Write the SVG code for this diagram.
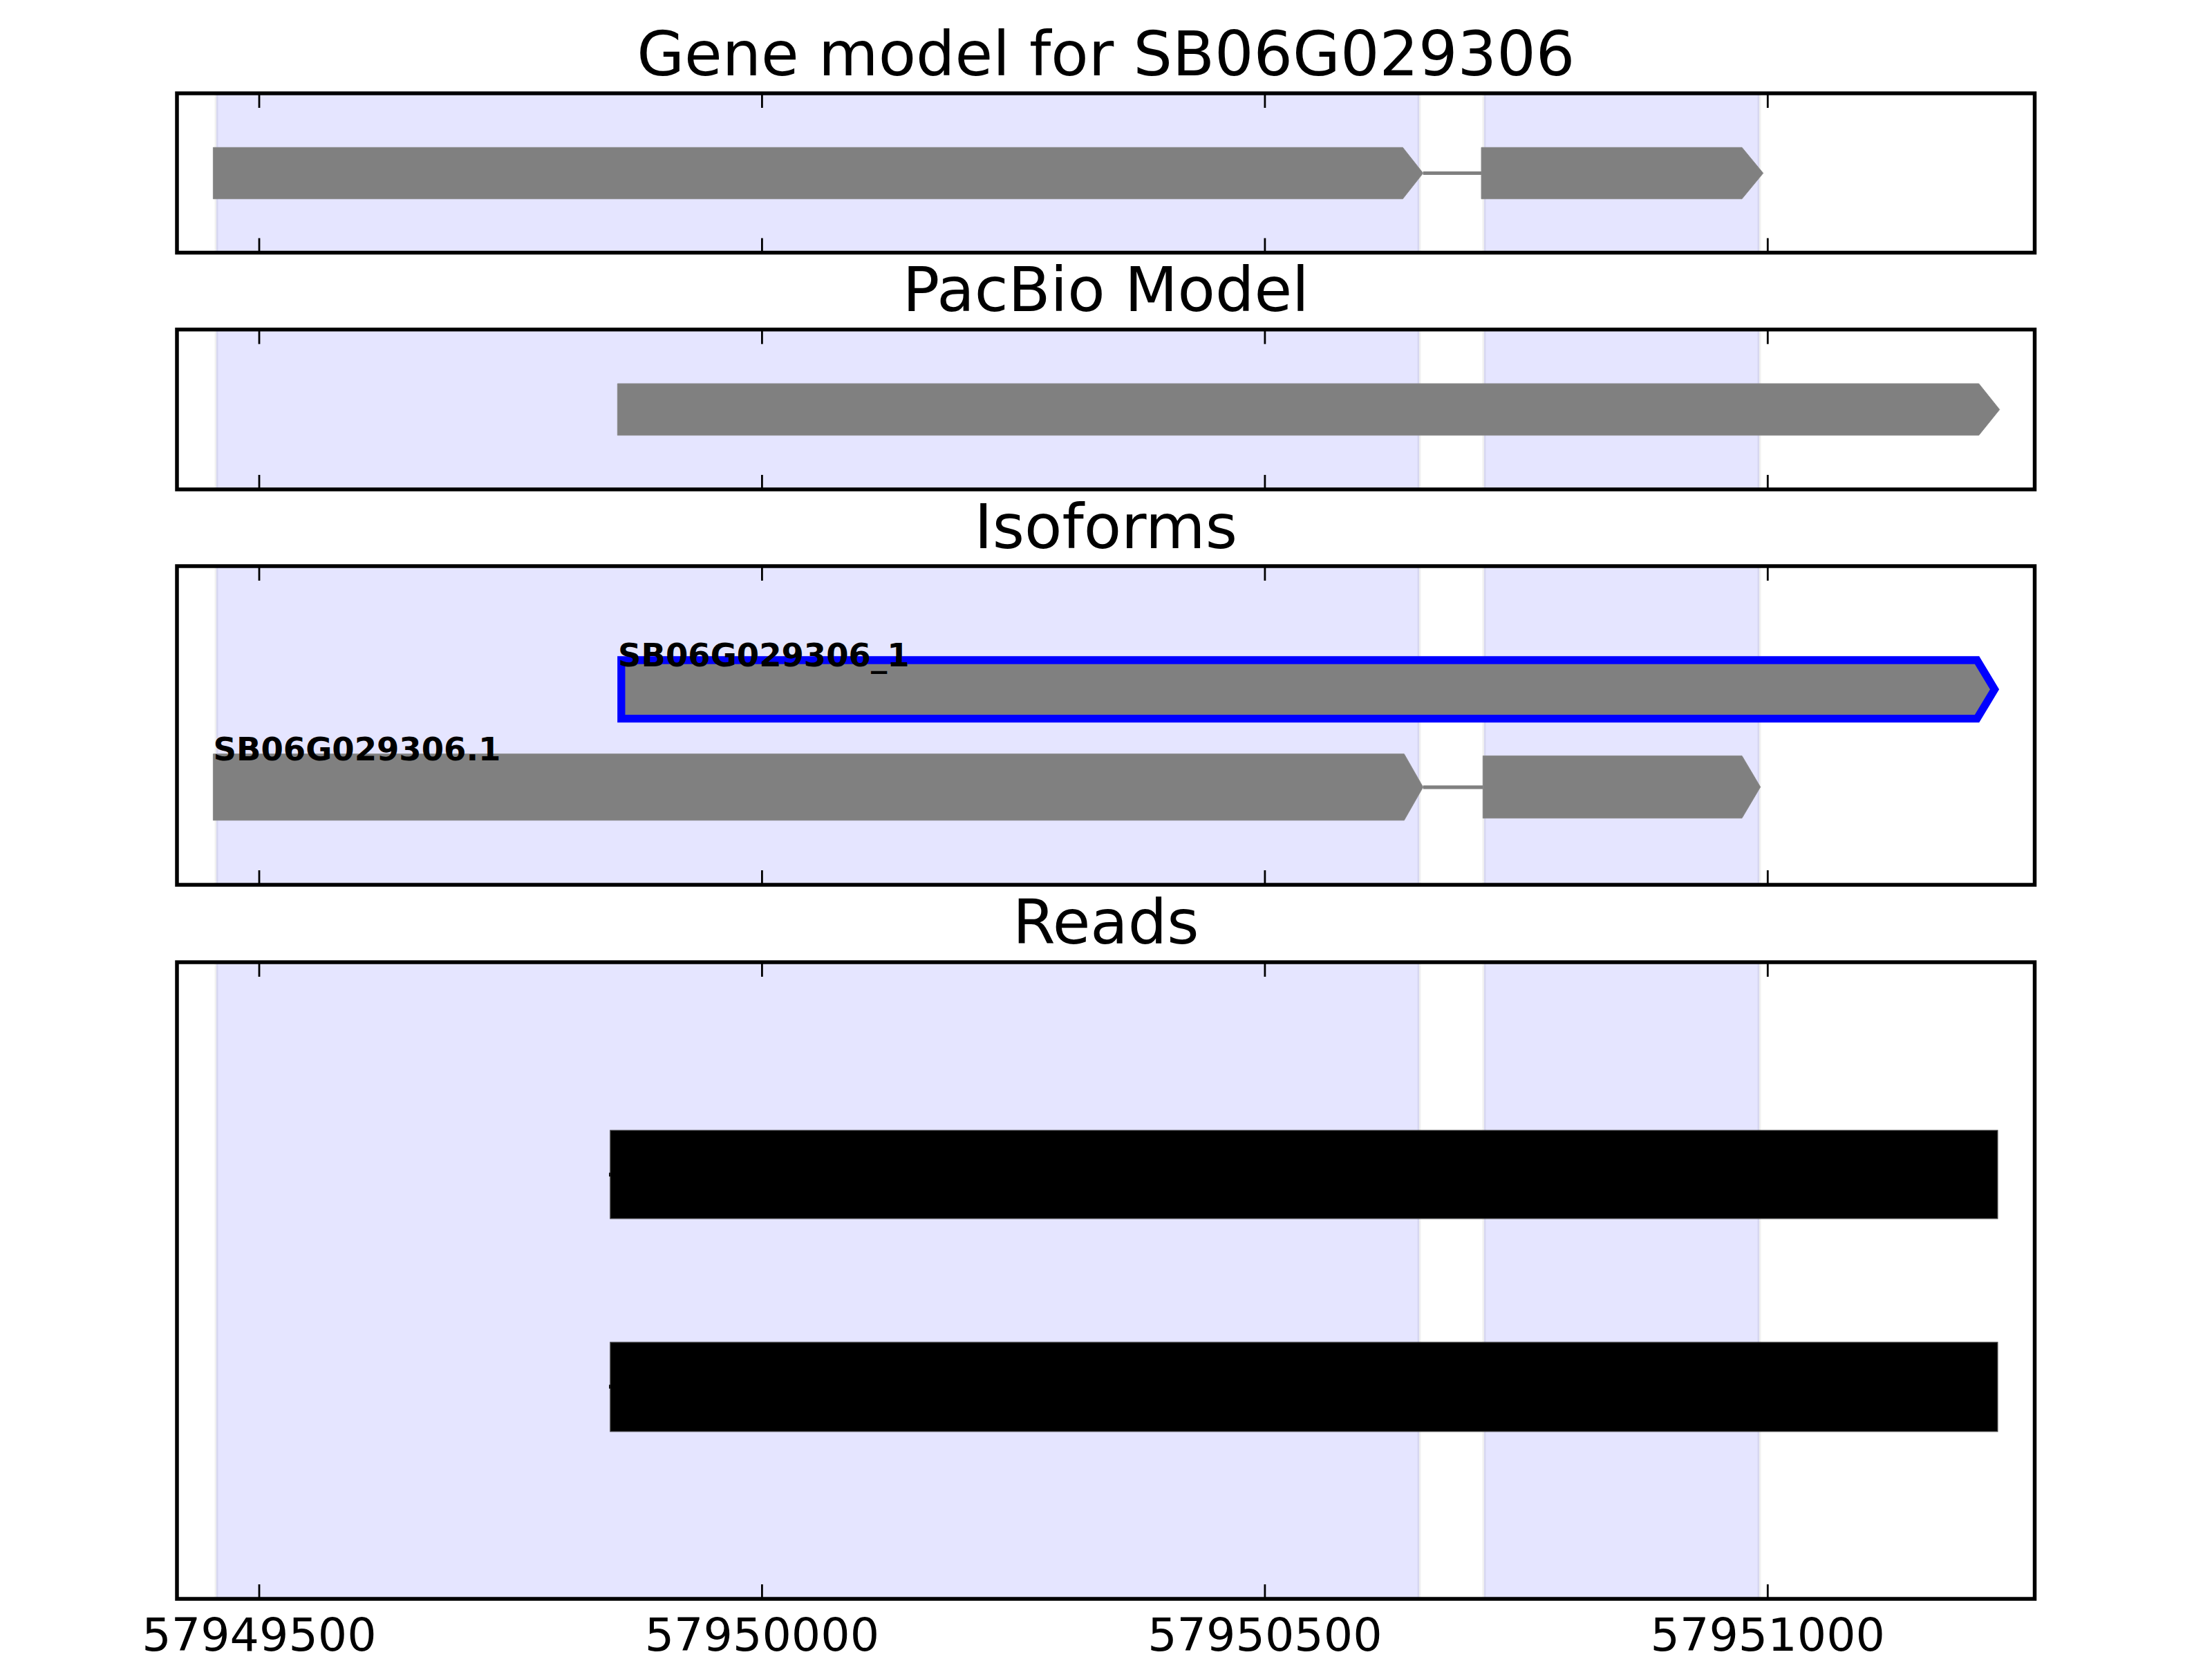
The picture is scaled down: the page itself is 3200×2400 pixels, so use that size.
<svg xmlns="http://www.w3.org/2000/svg" width="3200" height="2400" viewBox="0 0 3200 2400">
<defs>
<style>
.span{fill:#0000ff;fill-opacity:0.1;stroke:#000;stroke-opacity:0.06;stroke-width:5}
.frame{fill:none;stroke:#000;stroke-width:5.5}
.tick{stroke:#000;stroke-width:2.8}
.exon{fill:#808080;stroke:#8a8a8a;stroke-width:1}
.intron{stroke:#808080;stroke-width:5.2}
.read{fill:#000;stroke:#333;stroke-width:1.5}
.title{font-family:"DejaVu Sans",sans-serif;font-size:88.9px;fill:#000;text-anchor:middle}
.ticklbl{font-family:"DejaVu Sans",sans-serif;font-size:66.7px;fill:#000;text-anchor:middle}
.lbl{font-family:"DejaVu Sans",sans-serif;font-size:46.5px;font-weight:bold;fill:#000}
</style>
</defs>
<rect width="3200" height="2400" fill="#fff"/>

<!-- Panel 1: Gene model -->
<g id="panel-gene-model">
<rect class="span" x="313" y="135" width="1740" height="230.5"/>
<rect class="span" x="2147" y="135" width="398" height="230.5"/>
<polygon id="gene-exon1" class="exon" points="308.4,213.3 2029.3,213.3 2058.7,250.5 2029.3,287.7 308.4,287.7"/>
<polygon id="gene-exon2" class="exon" points="2143,213.3 2520,213.3 2550.7,250.5 2520,287.7 2143,287.7"/>
<rect class="frame" x="256" y="135" width="2687.5" height="230.5"/>
<g class="tick">
<line x1="375" y1="135" x2="375" y2="156"/><line x1="1102.4" y1="135" x2="1102.4" y2="156"/><line x1="1829.9" y1="135" x2="1829.9" y2="156"/><line x1="2557.3" y1="135" x2="2557.3" y2="156"/>
<line x1="375" y1="365.5" x2="375" y2="344.5"/><line x1="1102.4" y1="365.5" x2="1102.4" y2="344.5"/><line x1="1829.9" y1="365.5" x2="1829.9" y2="344.5"/><line x1="2557.3" y1="365.5" x2="2557.3" y2="344.5"/>
</g>
<text class="title" x="1599.75" y="109">Gene model for SB06G029306</text>
</g>

<!-- Panel 2: PacBio Model -->
<g id="panel-pacbio">
<rect class="span" x="313" y="476.7" width="1740" height="231.3"/>
<rect class="span" x="2147" y="476.7" width="398" height="231.3"/>
<polygon id="pacbio-exon" class="exon" points="893.3,555 2862.7,555 2892.7,592.5 2862.7,629.7 893.3,629.7"/>
<rect class="frame" x="256" y="476.7" width="2687.5" height="231.3"/>
<g class="tick">
<line x1="375" y1="476.7" x2="375" y2="497.7"/><line x1="1102.4" y1="476.7" x2="1102.4" y2="497.7"/><line x1="1829.9" y1="476.7" x2="1829.9" y2="497.7"/><line x1="2557.3" y1="476.7" x2="2557.3" y2="497.7"/>
<line x1="375" y1="708" x2="375" y2="687"/><line x1="1102.4" y1="708" x2="1102.4" y2="687"/><line x1="1829.9" y1="708" x2="1829.9" y2="687"/><line x1="2557.3" y1="708" x2="2557.3" y2="687"/>
</g>
<text class="title" x="1599.75" y="450">PacBio Model</text>
</g>

<!-- Panel 3: Isoforms -->
<g id="panel-isoforms">
<rect class="span" x="313" y="819" width="1740" height="461"/>
<rect class="span" x="2147" y="819" width="398" height="461"/>
<polygon id="iso-pacbio" points="898.8,955 2860,955 2885.5,997.3 2860,1039.7 898.8,1039.7" fill="#808080" stroke="#0000ff" stroke-width="11.3" stroke-linejoin="miter"/>
<polygon id="iso-exon1" class="exon" points="308.4,1090.7 2031.3,1090.7 2058.7,1138.7 2031.3,1186.7 308.4,1186.7"/>
<polygon id="iso-exon2" class="exon" points="2145.3,1093.4 2520,1093.4 2546.7,1138.5 2520,1183.6 2145.3,1183.6"/>
<text class="lbl" x="894" y="964">SB06G029306_1</text>
<text class="lbl" x="308.5" y="1100">SB06G029306.1</text>
<rect class="frame" x="256" y="819" width="2687.5" height="461"/>
<g class="tick">
<line x1="375" y1="819" x2="375" y2="840"/><line x1="1102.4" y1="819" x2="1102.4" y2="840"/><line x1="1829.9" y1="819" x2="1829.9" y2="840"/><line x1="2557.3" y1="819" x2="2557.3" y2="840"/>
<line x1="375" y1="1280" x2="375" y2="1259"/><line x1="1102.4" y1="1280" x2="1102.4" y2="1259"/><line x1="1829.9" y1="1280" x2="1829.9" y2="1259"/><line x1="2557.3" y1="1280" x2="2557.3" y2="1259"/>
</g>
<text class="title" x="1599.75" y="792.5">Isoforms</text>
</g>

<!-- Panel 4: Reads -->
<g id="panel-reads">
<rect class="span" x="313" y="1392" width="1740" height="921"/>
<rect class="span" x="2147" y="1392" width="398" height="921"/>
<rect id="read1" class="read" x="883" y="1635.4" width="2006.7" height="127.3"/>
<rect id="read2" class="read" x="883" y="1942" width="2006.7" height="128.7"/>
<rect x="881" y="1696.5" width="3" height="5.5" fill="#111"/>
<rect x="881" y="2003.3" width="3" height="5.5" fill="#111"/>
<rect class="frame" x="256" y="1392" width="2687.5" height="921"/>
<g class="tick">
<line x1="375" y1="1392" x2="375" y2="1413"/><line x1="1102.4" y1="1392" x2="1102.4" y2="1413"/><line x1="1829.9" y1="1392" x2="1829.9" y2="1413"/><line x1="2557.3" y1="1392" x2="2557.3" y2="1413"/>
<line x1="375" y1="2313" x2="375" y2="2292"/><line x1="1102.4" y1="2313" x2="1102.4" y2="2292"/><line x1="1829.9" y1="2313" x2="1829.9" y2="2292"/><line x1="2557.3" y1="2313" x2="2557.3" y2="2292"/>
</g>
<text class="title" x="1599.75" y="1365">Reads</text>
<text class="ticklbl" x="375" y="2388">57949500</text>
<text class="ticklbl" x="1102.4" y="2388">57950000</text>
<text class="ticklbl" x="1829.9" y="2388">57950500</text>
<text class="ticklbl" x="2557.3" y="2388">57951000</text>
</g>

<!-- Connectors: introns -->
<g id="connectors">
<line class="intron" x1="2058.7" y1="250.5" x2="2143" y2="250.5"/>
<line class="intron" x1="2058.7" y1="1138.8" x2="2145.3" y2="1138.8"/>
</g>
</svg>
